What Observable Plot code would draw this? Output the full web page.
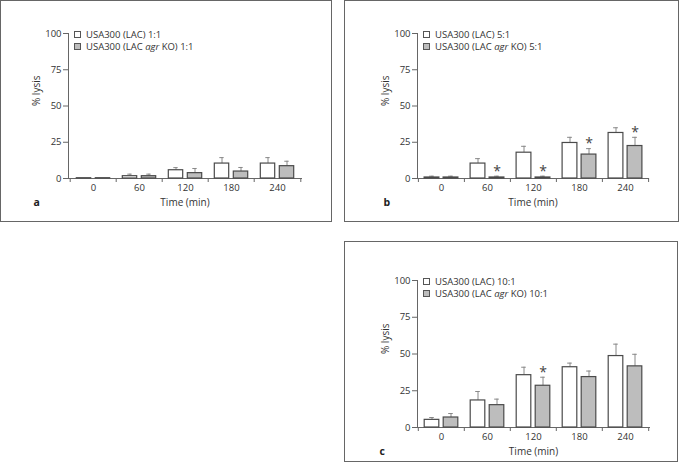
<!DOCTYPE html>
<html><head><meta charset="utf-8">
<script src="https://cdn.jsdelivr.net/npm/d3@7"></script>
<script src="https://cdn.jsdelivr.net/npm/@observablehq/plot@0.6"></script>
<style>
body{margin:0;background:#fff;}
#root{position:relative;width:680px;height:463px;font-family:"Open Sans",sans-serif;}
.panel{position:absolute;}
.panel svg{position:absolute;left:0;top:0;}
.border{position:absolute;left:0;top:0;right:0;bottom:0;border:1px solid #666;box-sizing:border-box;pointer-events:none}
.legend{position:absolute;font-size:9.5px;line-height:12px;color:#333;white-space:nowrap}
.legend .row{display:flex;align-items:center;height:12px;line-height:12px}
.legend .sw{width:5px;height:5px;border:1px solid #555;margin-right:5px;flex:none}
</style></head>
<body><div id="root"></div>
<script>
const times = ["0", "60", "120", "180", "240"];
const yTicks = [0, 25, 50, 75, 100];

// Panel a (1:1)
const aLacMean = [0.2, 1.6, 5.7, 10.3, 10.3];
const aLacSd   = [0, 1.4, 1.8, 4.1, 4.1];
const aKoMean  = [0.2, 1.6, 3.7, 4.8, 8.5];
const aKoSd    = [0, 1.4, 3.2, 2.8, 3.4];
const aKoSig   = [false, false, false, false, false];

// Panel b (5:1)
const bLacMean = [0.7, 10.3, 17.8, 24.5, 31.4];
const bLacSd   = [0.9, 3.4, 4.4, 3.9, 3.6];
const bKoMean  = [0.7, 0.7, 0.7, 16.5, 22.4];
const bKoSd    = [0.9, 0.9, 0.9, 4.1, 6.0];
const bKoSig   = [false, true, true, true, true];

// Panel c (10:1)
const cLacMean = [5.2, 18.4, 35.6, 41.0, 48.6];
const cLacSd   = [1.6, 6.1, 5.4, 2.8, 8.1];
const cKoMean  = [6.8, 15.2, 28.4, 34.3, 41.6];
const cKoSd    = [2.7, 4.1, 5.8, 4.1, 8.2];
const cKoSig   = [false, false, true, false, false];

const panels = [
  {letter: "a", ratio: "1:1", lac: aLacMean, lacSd: aLacSd, ko: aKoMean, koSd: aKoSd, sig: aKoSig,
   left: 0, top: 0, width: 332, height: 222, ml: 68, mr: 31, mt: 33, mb: 44, letterX: 33},
  {letter: "b", ratio: "5:1", lac: bLacMean, lacSd: bLacSd, ko: bKoMean, koSd: bKoSd, sig: bKoSig,
   left: 344, top: 0, width: 335, height: 222, ml: 73, mr: 31, mt: 33, mb: 44, letterX: 39},
  {letter: "c", ratio: "10:1", lac: cLacMean, lacSd: cLacSd, ko: cKoMean, koSd: cKoSd, sig: cKoSig,
   left: 344, top: 241, width: 334, height: 221, ml: 73, mr: 29, mt: 39, mb: 35, letterX: 35}
];

const root = document.getElementById("root");
const axisColor = "#666", textColor = "#333", barStroke = "#4a4a4a", errColor = "#888", koFill = "#bdbdbd";

for (const p of panels) {
  const lac = times.map((t, i) => ({time: t, mean: p.lac[i], sd: p.lacSd[i], top: p.lac[i] + p.lacSd[i]}));
  const ko = times.map((t, i) => ({time: t, mean: p.ko[i], sd: p.koSd[i], top: p.ko[i] + p.koSd[i], sig: p.sig[i]}));
  const bw = (p.width - p.ml - p.mr) / times.length;
  const barW = 15, gap = 4, capHalf = 2.5;
  const outer = (bw - 2 * barW - gap) / 2;
  const cL = outer + barW / 2, cK = bw - outer - barW / 2;
  const labelDy = 27.5;

  const chart = Plot.plot({
    width: p.width, height: p.height,
    marginLeft: p.ml, marginRight: p.mr, marginTop: p.mt, marginBottom: p.mb,
    style: {fontFamily: "'Open Sans', sans-serif", fontSize: "9.5px", color: textColor, background: "transparent", overflow: "visible"},
    x: {type: "band", domain: times, padding: 0},
    y: {domain: [0, 100]},
    marks: [
      Plot.axisY({ticks: yTicks, tickSize: 5, tickPadding: 2, stroke: axisColor, fill: textColor, label: null}),
      Plot.axisX({tickSize: 0, tickPadding: 6, fill: textColor, label: null}),
      Plot.axisX({tickSize: 4, dx: -bw / 2, stroke: axisColor, fill: "none", label: null}),
      Plot.axisX({ticks: [times[times.length - 1]], tickSize: 4, dx: bw / 2, stroke: axisColor, fill: "none", label: null}),
      Plot.frame({anchor: "left", stroke: axisColor}),
      Plot.frame({anchor: "bottom", stroke: axisColor}),
      // error bars
      Plot.ruleX(lac.filter(d => d.sd > 0), {x: "time", y1: "mean", y2: "top", dx: cL - bw / 2, stroke: errColor}),
      Plot.ruleX(ko.filter(d => d.sd > 0), {x: "time", y1: "mean", y2: "top", dx: cK - bw / 2, stroke: errColor}),
      Plot.tickY(lac.filter(d => d.sd > 0), {x: "time", y: "top", insetLeft: cL - capHalf, insetRight: bw - cL - capHalf, stroke: errColor}),
      Plot.tickY(ko.filter(d => d.sd > 0), {x: "time", y: "top", insetLeft: cK - capHalf, insetRight: bw - cK - capHalf, stroke: errColor}),
      // bars
      Plot.barY(lac, {x: "time", y: "mean", fill: "white", stroke: barStroke, strokeWidth: 1.2,
        insetLeft: outer, insetRight: bw - outer - barW}),
      Plot.barY(ko, {x: "time", y: "mean", fill: koFill, stroke: barStroke, strokeWidth: 1.2,
        insetLeft: outer + barW + gap, insetRight: outer}),
      // significance stars
      Plot.text(ko.filter(d => d.sig), {x: "time", y: "top", text: () => "*", dx: cK - bw / 2, dy: -5,
        fontSize: 14, fill: "#444", lineAnchor: "middle"}),
      // labels
      Plot.text(["Time (min)"], {frameAnchor: "bottom", dy: labelDy, lineAnchor: "bottom", fontSize: 10, fill: textColor}),
      Plot.text(["% lysis"], {frameAnchor: "left", rotate: -90, dx: -32, lineAnchor: "middle", fontSize: 10, fill: textColor}),
      Plot.text([p.letter], {frameAnchor: "bottom-left", dx: p.letterX - p.ml, dy: labelDy, textAnchor: "start",
        lineAnchor: "bottom", fontWeight: "bold", fontSize: 10.5, fill: "#222"})
    ]
  });

  const div = document.createElement("div");
  div.className = "panel";
  div.style.left = p.left + "px"; div.style.top = p.top + "px";
  div.style.width = p.width + "px"; div.style.height = p.height + "px";
  div.appendChild(chart);

  const leg = document.createElement("div");
  leg.className = "legend";
  leg.style.left = (p.ml + 6) + "px";
  leg.style.top = (p.mt - 4.5) + "px";
  leg.innerHTML =
    `<div class="row"><span class="sw" style="background:#fff"></span><span>USA300 (LAC) ${p.ratio}</span></div>` +
    `<div class="row"><span class="sw" style="background:${koFill}"></span><span>USA300 (LAC <i>agr</i> KO) ${p.ratio}</span></div>`;
  div.appendChild(leg);

  const border = document.createElement("div");
  border.className = "border";
  div.appendChild(border);
  root.appendChild(div);
}
</script>
</body></html>
